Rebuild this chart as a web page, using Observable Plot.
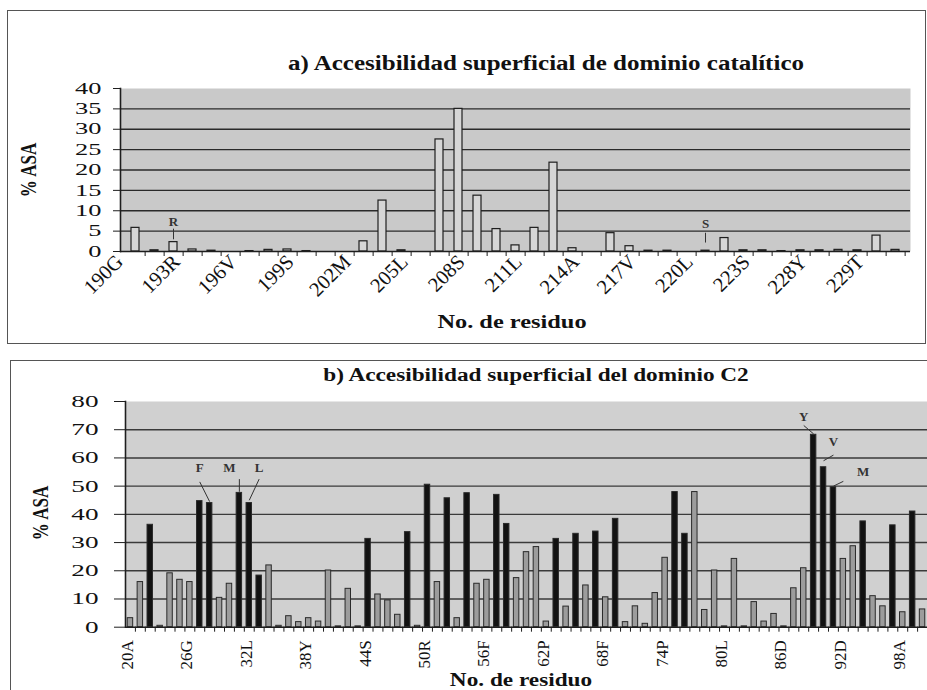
<!DOCTYPE html>
<html>
<head>
<meta charset="utf-8">
<script src="https://cdn.jsdelivr.net/npm/d3@7"></script>
<script src="https://cdn.jsdelivr.net/npm/@observablehq/plot@0.6"></script>
<style>
  body { margin: 0; background: #fff; }
  #page { position: relative; width: 927px; height: 690px; overflow: hidden; font-family: "Liberation Serif", "Times New Roman", serif; color: #111; }
  .box { position: absolute; border: 1px solid #555; box-sizing: border-box; }
  .chart { position: absolute; left: 0; }
  .chart svg { display: block; }
  .t { position: absolute; white-space: nowrap; line-height: 1; font-weight: bold; color: #111; }
</style>
</head>
<body>
<div id="page">
  <div class="box" style="left:7px;top:10px;width:919px;height:334px"></div>
  <div class="box" style="left:10px;top:360px;width:940px;height:360px"></div>
  <div id="chartA" class="chart" style="top:0px"></div>
  <div id="chartB" class="chart" style="top:345px"></div>
  <div class="t" style="left:546px;top:63px;font-size:20px;transform:translate(-50%,-50%) scaleX(1.25)">a) Accesibilidad superficial de dominio catalítico</div>
  <div class="t" style="left:29px;top:170px;font-size:17px;transform:translate(-50%,-50%) rotate(-90deg) scaleY(1.3)">% ASA</div>
  <div class="t" style="left:512px;top:322px;font-size:19.5px;transform:translate(-50%,-50%) scaleX(1.25)">No. de residuo</div>
  <div class="t" style="left:536px;top:375px;font-size:18.6px;transform:translate(-50%,-50%) scaleX(1.25)">b) Accesibilidad superficial del dominio C2</div>
  <div class="t" style="left:41px;top:513px;font-size:17px;transform:translate(-50%,-50%) rotate(-90deg) scaleY(1.3)">% ASA</div>
  <div class="t" style="left:521px;top:680px;font-size:18.6px;transform:translate(-50%,-50%) scaleX(1.25)">No. de residuo</div>
</div>
<script>
// ---------- Panel a: catalytic domain ----------
const labelsA = ["190G","193R","196V","199S","202M","205L","208S","211L","214A","217V","220L","223S","228Y","229T"];
const valuesA = [5.8,0.3,2.3,0.5,0.2,0,0.1,0.4,0.5,0.1,0,0,2.5,12.5,0.3,0,27.5,35,13.7,5.5,1.5,5.8,21.8,0.8,0,4.5,1.3,0.2,0.2,0,0.2,3.3,0.3,0.3,0.1,0.3,0.3,0.4,0.3,3.9,0.4];
const yTicksA = [0,5,10,15,20,25,30,35,40];
const gridA = [5,10,15,20,25,30,35];
const annTextA = ["R","S"];
const annIdxA = [2,30];
const annLabelYA = [7.2,6.9];
const annLineTopA = [5.6,4.6];
const annLineBotA = [3.0,2.2];

// ---------- Panel b: C2 domain ----------
const labelsB = ["20A","26G","32L","38Y","44S","50R","56F","62P","68F","74P","80L","86D","92D","98A"];
const valuesB = [3.2,16.0,36.3,0.5,19.1,16.8,16.0,44.7,44.0,10.4,
                 15.4,47.6,44.0,18.3,21.9,0.5,3.9,1.8,3.2,2.0,
                 20.1,0.3,13.6,0.3,31.3,11.6,9.5,4.4,33.7,0.5,
                 50.5,16.0,45.7,3.2,47.5,15.4,16.8,46.9,36.6,17.4,
                 26.6,28.4,2.0,31.3,7.3,33.1,14.8,33.9,10.6,38.4,
                 1.8,7.4,1.2,12.1,24.6,47.9,33.1,47.9,6.1,20.1,
                 0.3,24.2,0.3,8.9,2.0,4.7,0.3,13.8,20.9,68.2,
                 56.7,49.6,24.2,28.7,37.5,11.0,7.4,36.1,5.3,41.0,6.3];
// k = dark bar, g = grey bar
const groupsB = ["g","g","k","g","g","g","g","k","k","g",
                 "g","k","k","k","g","g","g","g","g","g",
                 "g","g","g","g","k","g","g","g","k","g",
                 "k","g","k","g","k","g","g","k","k","g",
                 "g","g","g","k","g","k","g","k","g","k",
                 "g","g","g","g","g","k","k","g","g","g",
                 "g","g","g","g","g","g","g","g","g","k",
                 "k","k","g","g","k","g","g","k","g","k","g"];
const yTicksB = [0,10,20,30,40,50,60,70,80];
const gridB = [10,20,30,40,50,60,70];
const annTextB = ["F","M","L","Y","V","M"];
const annLabelIdxB = [7,10,13,68,71,74];
const annLabelYB = [56.4,56.4,56.4,74.5,65.6,55.2];
const annFromIdxB = [7,11,13,68,71,72];
const annFromYB = [51.5,52.5,52.5,71.5,61,51.7];
const annToIdxB = [8,11,12,69,70,71];
const annToYB = [44.5,48,45,68.5,59,50];

function stretch(svg, aria, sx) {
  svg.querySelectorAll(`g[aria-label="${aria}"] text`).forEach(t => {
    let tr = t.getAttribute("transform") || "";
    const x = t.getAttribute("x");
    if (x !== null && x !== "" && !isNaN(+x)) { tr = `${tr} translate(${x},0)`; t.removeAttribute("x"); }
    t.setAttribute("transform", `${tr} scale(${sx},1)`);
  });
}

const font = "'Liberation Serif', 'Times New Roman', serif";

// ---- Chart A ----
{
  const W = 927, H = 345, mL = 120, mR = 17, mT = 88, mB = 94;
  const cats = d3.range(valuesA.length);
  const data = cats.map(i => ({i, v: valuesA[i]}));
  const step = (W - mL - mR) / cats.length;
  const labelTicks = labelsA.map((_, k) => k * 3);
  const ann = annTextA.map((s, k) => ({s, i: annIdxA[k], y: annLabelYA[k], y1: annLineTopA[k], y2: annLineBotA[k]}));
  const svg = Plot.plot({
    width: W, height: H,
    marginLeft: mL, marginRight: mR, marginTop: mT, marginBottom: mB,
    style: {fontFamily: font, fontSize: "16px", color: "#111", background: "transparent", overflow: "visible"},
    x: {type: "band", domain: cats, paddingInner: 0.6, paddingOuter: 0.3},
    y: {domain: [0, 40]},
    marks: [
      Plot.frame({fill: "#c9c9c9", stroke: "none"}),
      Plot.ruleY(gridA, {stroke: "#2a2a2a", strokeWidth: 1.4}),
      Plot.barY(data, {x: "i", y: "v", fill: "#d6d6d6", stroke: "#1e1e1e", strokeWidth: 1.2}),
      Plot.ruleY([0], {stroke: "#1e1e1e", strokeWidth: 1.6}),
      Plot.frame({anchor: "left", stroke: "#1e1e1e", strokeWidth: 1.6}),
      Plot.axisY({ticks: yTicksA, tickSize: 7, tickPadding: 12, fontSize: 16, label: null, stroke: "#1e1e1e"}),
      Plot.axisX({ticks: cats, tickFormat: () => "", tickSize: 5, dx: step / 2, label: null, stroke: "#1e1e1e"}),
      Plot.axisX({ticks: labelTicks, tickFormat: i => labelsA[i / 3], tickRotate: -45, tickSize: 0, tickPadding: 7, dx: -16, fontSize: 20.5, label: null}),
      Plot.link(ann, {x1: "i", x2: "i", y1: "y1", y2: "y2", stroke: "#333", strokeWidth: 1}),
      Plot.text(ann, {x: "i", y: "y", text: "s", fontSize: 13, fontWeight: "bold", fill: "#333"})
    ]
  });
  stretch(svg, "y-axis tick label", 1.65);
  document.getElementById("chartA").appendChild(svg);
}

// ---- Chart B ----
{
  const W = 927, H = 345, mL = 125, mR = 0, mT = 56, mB = 63.3;
  const cats = d3.range(valuesB.length);
  const data = cats.map(i => ({i, v: valuesB[i], g: groupsB[i]}));
  const step = (W - mL - mR) / cats.length;
  const labelTicks = labelsB.map((_, k) => k * 6);
  const links = annTextB.map((s, k) => ({x1: annFromIdxB[k], y1: annFromYB[k], x2: annToIdxB[k], y2: annToYB[k]}));
  const labs = annTextB.map((s, k) => ({s, i: annLabelIdxB[k], y: annLabelYB[k]}));
  const svg = Plot.plot({
    width: W, height: H,
    marginLeft: mL, marginRight: mR, marginTop: mT, marginBottom: mB,
    style: {fontFamily: font, fontSize: "17px", color: "#111", background: "transparent", overflow: "visible"},
    x: {type: "band", domain: cats, paddingInner: 0.45, paddingOuter: 0.225},
    y: {domain: [0, 80]},
    color: {domain: ["k", "g"], range: ["#121212", "#9c9c9c"]},
    marks: [
      Plot.frame({fill: "#d0d0d0", stroke: "none"}),
      Plot.ruleY(gridB, {stroke: "#3a3a3a", strokeWidth: 1.4}),
      Plot.barY(data, {x: "i", y: "v", fill: "g", stroke: "#2a2a2a", strokeWidth: 1}),
      Plot.ruleY([0], {stroke: "#1e1e1e", strokeWidth: 1.6}),
      Plot.frame({anchor: "left", stroke: "#1e1e1e", strokeWidth: 1.6}),
      Plot.axisY({ticks: yTicksB, tickSize: 11, tickPadding: 16, fontSize: 17, label: null, stroke: "#1e1e1e"}),
      Plot.axisX({ticks: cats, tickFormat: () => "", tickSize: 5, dx: step / 2, label: null, stroke: "#1e1e1e"}),
      Plot.axisX({ticks: labelTicks, tickFormat: i => labelsB[i / 6], tickRotate: -90, tickSize: 0, tickPadding: 13, dx: -3, fontSize: 17, label: null}),
      Plot.link(links, {x1: "x1", y1: "y1", x2: "x2", y2: "y2", stroke: "#333", strokeWidth: 1}),
      Plot.text(labs, {x: "i", y: "y", text: "s", fontSize: 13, fontWeight: "bold", fill: "#333"})
    ]
  });
  stretch(svg, "y-axis tick label", 1.6);
  document.getElementById("chartB").appendChild(svg);
}
</script>
</body>
</html>
